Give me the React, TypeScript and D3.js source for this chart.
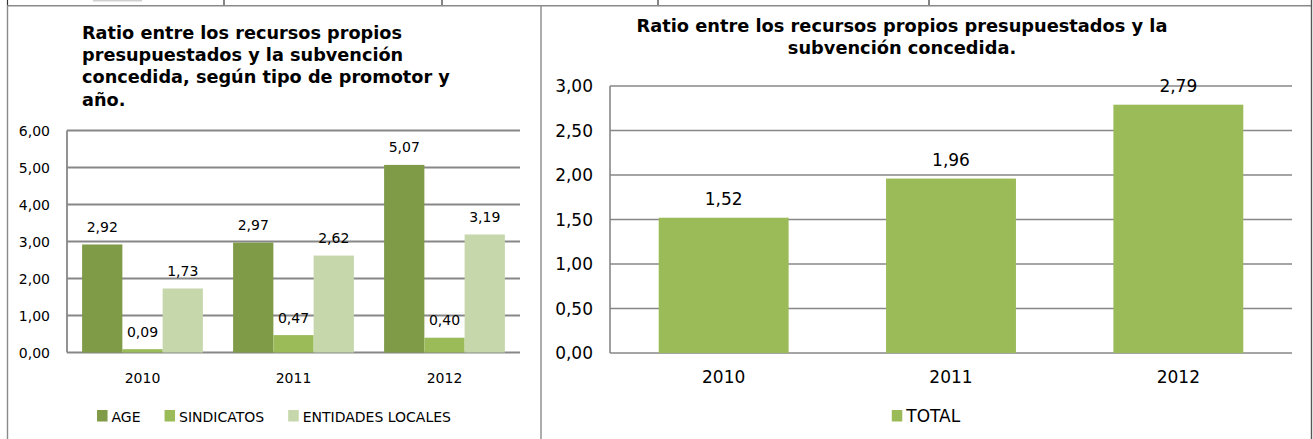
import React, { useRef, useEffect } from 'react';
import * as d3 from 'd3';

// data
const years = ['2010', '2011', '2012'];
const promotores = ['AGE', 'SINDICATOS', 'ENTIDADES LOCALES'];
const ageValues = [2.92, 2.97, 5.07];
const sindicatosValues = [0.09, 0.47, 0.4];
const entidadesValues = [1.73, 2.62, 3.19];
const totalSeries = ['TOTAL'];
const totalValues = [1.52, 1.96, 2.79];
const leftTicks = [0, 1, 2, 3, 4, 5, 6];
const rightTicks = [0, 0.5, 1, 1.5, 2, 2.5, 3];
const leftTitle = [
  'Ratio entre los recursos propios',
  'presupuestados y la subvención',
  'concedida, según tipo de promotor y',
  'año.',
];
const rightTitle = ['Ratio entre los recursos propios presupuestados y la', 'subvención concedida.'];

const colors = ['#7F9B47', '#9BBB59', '#C6D7AB'];
const FONT = 'DejaVu Sans, Verdana, sans-serif';

const esLocale = d3.formatLocale({ decimal: ',', thousands: '.', grouping: [3], currency: ['', ' €'] });
const fmt = esLocale.format('.2f');

type ChartCfg = {
  series: string[];
  values: number[][];
  colors: string[];
  ticks: number[];
  xRange: [number, number];
  yRange: [number, number];
  fontSize: number;
  gridWidth: number;
  labelGap: number;
  xLabelY: number;
  legendY: number;
  legendCenter: number;
};

function drawChart(svg: any, cfg: ChartCfg) {
  const g = svg.append('g').attr('font-family', FONT).attr('font-size', cfg.fontSize);

  const x0 = d3.scaleBand().domain(years).range(cfg.xRange).padding(0);
  // Excel style: gap width 75% of one bar, split on both sides of the group
  const x1 = d3.scaleBand().domain(cfg.series).range([0, x0.bandwidth()]).paddingInner(0).paddingOuter(0.375);
  const y = d3.scaleLinear().domain([0, d3.max(cfg.ticks) as number]).range(cfg.yRange);

  // gridlines
  g.append('g')
    .selectAll('line')
    .data(cfg.ticks)
    .join('line')
    .attr('x1', cfg.xRange[0])
    .attr('x2', cfg.xRange[1])
    .attr('y1', (d: number) => y(d))
    .attr('y2', (d: number) => y(d))
    .attr('stroke', '#878787')
    .attr('stroke-width', cfg.gridWidth);

  // y axis line
  g.append('line')
    .attr('x1', cfg.xRange[0])
    .attr('x2', cfg.xRange[0])
    .attr('y1', y(0))
    .attr('y2', y(d3.max(cfg.ticks) as number))
    .attr('stroke', '#878787')
    .attr('stroke-width', cfg.gridWidth);

  // tick labels
  g.append('g')
    .selectAll('text')
    .data(cfg.ticks)
    .join('text')
    .attr('x', cfg.xRange[0] - 17)
    .attr('y', (d: number) => y(d))
    .attr('dy', '0.38em')
    .attr('text-anchor', 'end')
    .text((d: number) => fmt(d));

  // bars
  cfg.series.forEach((s, si) => {
    const grp = g.append('g');
    grp.selectAll('rect')
      .data(cfg.values[si])
      .join('rect')
      .attr('x', (d: number, i: number) => (x0(years[i]) as number) + (x1(s) as number))
      .attr('y', (d: number) => y(d))
      .attr('width', x1.bandwidth())
      .attr('height', (d: number) => y(0) - y(d))
      .attr('fill', cfg.colors[si]);

    grp.selectAll('text')
      .data(cfg.values[si])
      .join('text')
      .attr('x', (d: number, i: number) => (x0(years[i]) as number) + (x1(s) as number) + x1.bandwidth() / 2)
      .attr('y', (d: number) => y(d) - cfg.labelGap)
      .attr('text-anchor', 'middle')
      .text((d: number) => fmt(d));
  });

  // x labels
  g.append('g')
    .selectAll('text')
    .data(years)
    .join('text')
    .attr('x', (d: string) => (x0(d) as number) + x0.bandwidth() / 2)
    .attr('y', cfg.xLabelY)
    .attr('text-anchor', 'middle')
    .text((d: string) => d);

  // legend, centred on the panel
  const leg = g.append('g');
  let cx = 0;
  cfg.series.forEach((s, si) => {
    const item = leg.append('g').attr('transform', `translate(${cx},0)`);
    item.append('rect')
      .attr('x', 0)
      .attr('y', cfg.legendY - 11.5)
      .attr('width', 10.5)
      .attr('height', 11.5)
      .attr('fill', cfg.colors[si]);
    const t = item.append('text').attr('x', 14.5).attr('y', cfg.legendY).text(s);
    const w = (t.node() as SVGTextElement).getComputedTextLength();
    cx += 14.5 + w + 24;
  });
  const legW = cx - 24;
  leg.attr('transform', `translate(${cfg.legendCenter - legW / 2},0)`);
}

const App = () => {
  const svgRef = useRef<SVGSVGElement>(null);

  useEffect(() => {
    const svg = d3.select(svgRef.current);
    svg.selectAll('*').remove();

    // table borders around the two charts
    const frame = svg.append('g');
    frame.append('rect').attr('x', 93).attr('y', 0).attr('width', 49).attr('height', 1.5).attr('fill', '#cfcfcf');
    [7.5, 224, 442, 658, 929].forEach(xx => {
      frame.append('line').attr('x1', xx).attr('x2', xx).attr('y1', 0).attr('y2', 5).attr('stroke', '#333').attr('stroke-width', 1.2);
    });
    frame.append('line').attr('x1', 7).attr('x2', 1312).attr('y1', 5.8).attr('y2', 5.8).attr('stroke', '#8a8a8a').attr('stroke-width', 1.6);
    frame.append('line').attr('x1', 7.5).attr('x2', 7.5).attr('y1', 5).attr('y2', 439).attr('stroke', '#8a8a8a').attr('stroke-width', 1.4);
    frame.append('line').attr('x1', 541).attr('x2', 541).attr('y1', 5).attr('y2', 439).attr('stroke', '#8a8a8a').attr('stroke-width', 1.4);
    frame.append('line').attr('x1', 1311.5).attr('x2', 1311.5).attr('y1', 0).attr('y2', 439).attr('stroke', '#555').attr('stroke-width', 1.4);

    // titles
    const lt = svg.append('g').attr('font-family', FONT).attr('font-weight', 'bold').attr('font-size', 17.7);
    leftTitle.forEach((line, i) => {
      lt.append('text').attr('x', 82).attr('y', 38.5 + i * 22.4).text(line);
    });
    const rt = svg.append('g').attr('font-family', FONT).attr('font-weight', 'bold').attr('font-size', 17.8).attr('text-anchor', 'middle');
    rightTitle.forEach((line, i) => {
      rt.append('text').attr('x', 902).attr('y', 31.5 + i * 22.6).text(line);
    });

    drawChart(svg, {
      series: promotores,
      values: [ageValues, sindicatosValues, entidadesValues],
      colors,
      ticks: leftTicks,
      xRange: [67, 520],
      yRange: [352.5, 130.5],
      fontSize: 14,
      gridWidth: 1.8,
      labelGap: 12.5,
      xLabelY: 383,
      legendY: 421.5,
      legendCenter: 274,
    });

    drawChart(svg, {
      series: totalSeries,
      values: [totalValues],
      colors: ['#9BBB59'],
      ticks: rightTicks,
      xRange: [610, 1292],
      yRange: [353, 86],
      fontSize: 17,
      gridWidth: 1.6,
      labelGap: 13,
      xLabelY: 382.5,
      legendY: 421.5,
      legendCenter: 926,
    });
  }, []);

  return (
    <svg
      ref={svgRef}
      width={1313}
      height={439}
      style={{ position: 'absolute', left: 0, top: 0, background: '#fff' }}
    ></svg>
  );
};

export default App;
